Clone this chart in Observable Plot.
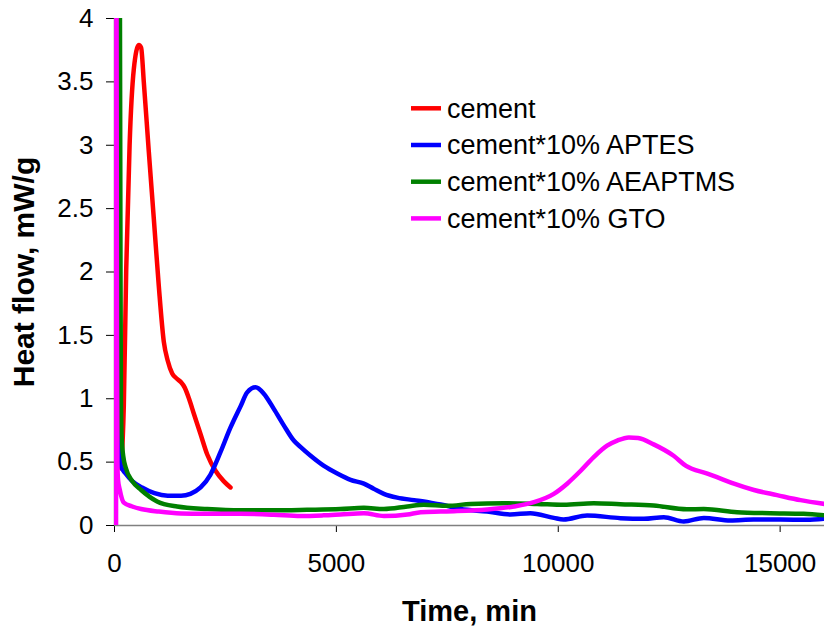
<!DOCTYPE html>
<html>
<head>
<meta charset="utf-8">
<script src="https://cdn.jsdelivr.net/npm/d3@7"></script>
<script src="https://cdn.jsdelivr.net/npm/@observablehq/plot@0.6"></script>
<style>
  html, body { margin: 0; padding: 0; background: #fff; }
  #chart { width: 824px; height: 631px; }
</style>
</head>
<body>
<div id="chart"></div>
<script>
// ---- Data ----
const seriesNames = ["cement", "cement*10% APTES", "cement*10% AEAPTMS", "cement*10% GTO"];
const seriesColors = ["#ff0000", "#0000ff", "#008000", "#ff00ff"];

const cementTime = [150, 210, 264, 340, 435, 548, 600, 660, 773, 886, 998, 1111, 1200, 1300, 1400, 1500, 1580, 1680, 1790, 1940, 2090, 2280, 2460, 2614];
const cementHeat = [0.45, 0.95, 2.02, 3.0, 3.6, 3.79, 3.77, 3.5, 2.95, 2.42, 1.89, 1.45, 1.3, 1.2, 1.16, 1.13, 1.09, 1.0, 0.88, 0.72, 0.56, 0.43, 0.35, 0.30];

const aptesTime = [70, 100, 112, 122, 140, 250, 400, 620, 900, 1200, 1500, 1710, 1940, 2160, 2390, 2610, 2840, 2990, 3180, 3365, 3590, 3815, 4040, 4190, 4420, 4720, 5020, 5320, 5620, 5840, 6070, 6370, 6750, 7120, 7350, 7800, 8400, 8920, 9370, 9900, 10120, 10650, 11400, 11930, 12380, 12830, 13280, 13880, 14400, 15000, 15600, 16000];
const aptesHeat = [4.5, 2.6, 1.2, 0.6, 0.47, 0.41, 0.35, 0.3, 0.255, 0.235, 0.235, 0.25, 0.3, 0.4, 0.58, 0.77, 0.94, 1.05, 1.09, 1.04, 0.92, 0.79, 0.67, 0.62, 0.55, 0.47, 0.41, 0.36, 0.33, 0.29, 0.25, 0.22, 0.2, 0.18, 0.166, 0.13, 0.11, 0.087, 0.097, 0.06, 0.047, 0.079, 0.058, 0.053, 0.066, 0.032, 0.06, 0.04, 0.047, 0.047, 0.045, 0.053];

const aeaptmsTime = [120, 135, 145, 160, 200, 250, 400, 600, 960, 1410, 2090, 2840, 3590, 4340, 5090, 5620, 6070, 6600, 6970, 7500, 8020, 8770, 9525, 10125, 10800, 11400, 12150, 12900, 13280, 14030, 14780, 15530, 16000];
const aeaptmsHeat = [4.5, 2.0, 1.0, 0.7, 0.54, 0.46, 0.35, 0.28, 0.19, 0.15, 0.13, 0.12, 0.12, 0.124, 0.13, 0.14, 0.13, 0.15, 0.163, 0.155, 0.17, 0.176, 0.17, 0.163, 0.176, 0.168, 0.158, 0.128, 0.13, 0.105, 0.097, 0.092, 0.08];

const gtoTime = [35, 45, 55, 65, 80, 120, 210, 400, 600, 1000, 1500, 2000, 2840, 3590, 4190, 4700, 5090, 5620, 6070, 6600, 6900, 7350, 7650, 8400, 9000, 9450, 9900, 10200, 10500, 10800, 11100, 11330, 11590, 11800, 12150, 12600, 12880, 13360, 13660, 13960, 14410, 14930, 15460, 16000];
const gtoHeat = [0, 4.5, 1.5, 0.5, 0.36, 0.28, 0.18, 0.15, 0.13, 0.11, 0.095, 0.092, 0.092, 0.085, 0.075, 0.08, 0.087, 0.097, 0.075, 0.087, 0.105, 0.11, 0.113, 0.126, 0.15, 0.184, 0.25, 0.33, 0.43, 0.54, 0.63, 0.67, 0.695, 0.69, 0.64, 0.55, 0.47, 0.41, 0.37, 0.33, 0.28, 0.24, 0.2, 0.17];

const xTicks = [0, 5000, 10000, 15000];
const yTicks = [0, 0.5, 1, 1.5, 2, 2.5, 3, 3.5, 4];
const xTitle = "Time, min";
const yTitle = "Heat flow, mW/g";

// ---- Build table ----
const times = [cementTime, aptesTime, aeaptmsTime, gtoTime];
const heats = [cementHeat, aptesHeat, aeaptmsHeat, gtoHeat];
const rows = seriesNames.flatMap((s, i) => times[i].map((t, j) => ({series: s, t, q: heats[i][j]})));

const font = "'Liberation Sans', Arial, Helvetica, sans-serif";

const chart = Plot.plot({
  width: 824,
  height: 631,
  marginLeft: 114,
  marginRight: 0,
  marginTop: 18,
  marginBottom: 106,
  style: {fontSize: "26px", fontFamily: font, background: "white", color: "black", overflow: "visible"},
  x: {domain: [0, 16000], ticks: xTicks, tickSize: 7, tickPadding: 21, tickFormat: d => String(d), label: null},
  y: {domain: [0, 4], ticks: yTicks, tickSize: 8, tickPadding: 13, tickFormat: d => String(d), label: null},
  color: {domain: seriesNames, range: seriesColors},
  marks: [
    Plot.ruleY([0], {stroke: "#808080", strokeWidth: 1.5}),
    Plot.ruleX([0], {stroke: "#808080", strokeWidth: 1.5}),
    Plot.line(rows, {x: "t", y: "q", z: "series", stroke: "series", strokeWidth: 4.5, curve: "monotone-x", clip: true, strokeLinejoin: "round"}),
    Plot.text([xTitle], {frameAnchor: "bottom", textAnchor: "middle", dy: 95, fontSize: 29, fontWeight: "bold", fill: "black"}),
    Plot.text([yTitle], {frameAnchor: "left", textAnchor: "middle", rotate: -90, dx: -90, fontSize: 30, fontWeight: "bold", fill: "black"})
  ]
});

// ---- Legend inside the plot area ----
const svg = d3.select(chart);
const leg = svg.append("g").attr("font-family", font).attr("font-size", 27).attr("text-anchor", "start");
seriesNames.forEach((name, i) => {
  const y = 108.3 + i * 36.7;
  leg.append("line").attr("x1", 411).attr("x2", 441).attr("y1", y).attr("y2", y)
     .attr("stroke", seriesColors[i]).attr("stroke-width", 4.5);
  leg.append("text").attr("x", 447).attr("y", y).attr("dy", "0.35em").attr("fill", "black").text(name);
});

document.getElementById("chart").appendChild(chart);
</script>
</body>
</html>
